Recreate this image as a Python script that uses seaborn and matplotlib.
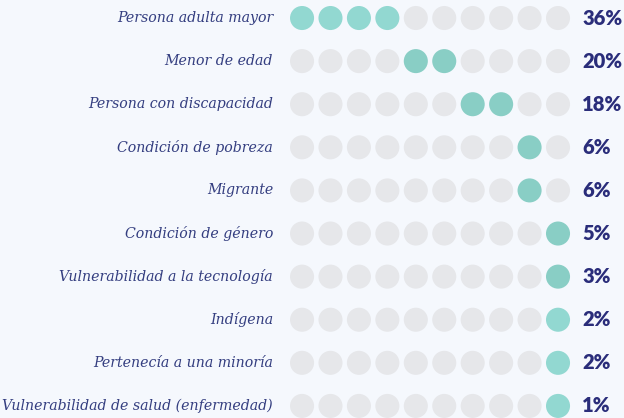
import pandas as pd
import matplotlib.pyplot as plt
import seaborn as sns

# rows, top to bottom
categories = ["Persona adulta mayor", "Menor de edad", "Persona con discapacidad",
              "Condición de pobreza", "Migrante", "Condición de género",
              "Vulnerabilidad a la tecnología", "Indígena", "Pertenecía a una minoría",
              "Vulnerabilidad de salud (enfermedad)"]
percentages = [36, 20, 18, 6, 6, 5, 3, 2, 2, 1]
# which of the 10 dots are filled in each row
firstDot = [0, 4, 6, 8, 8, 9, 9, 9, 9, 9]
filledDots = [4, 2, 2, 1, 1, 1, 1, 1, 1, 1]
rowColors = ["#92d8d1", "#89cec5", "#89cec5", "#89cec5", "#89cec5", "#89cec5",
             "#89cec5", "#92d8d1", "#92d8d1", "#92d8d1"]

bgColor = "#f5f8fd"
greyDot = "#e6e7ea"
labelColor = "#343e80"
pctColor = "#2a2d7a"

records = []
for row, cat in enumerate(categories):
    for dot in range(10):
        filled = firstDot[row] <= dot < firstDot[row] + filledDots[row]
        records.append({"row": row, "dot": dot, "color": rowColors[row] if filled else greyDot})
dotsDf = pd.DataFrame(records)

sns.set_style("white")
fig = plt.figure(figsize=(6.24, 4.18), dpi=100, facecolor=bgColor)
ax = fig.add_axes([0, 0, 1, 1])
ax.set_facecolor(bgColor)

palette = {c: c for c in dotsDf["color"].unique()}
sns.scatterplot(data=dotsDf, x="dot", y="row", hue="color", palette=palette,
                s=300, linewidth=0, legend=False, ax=ax)

for row, (cat, pct) in enumerate(zip(categories, percentages)):
    ax.text(-1.02, row, cat, ha="right", va="center", fontsize=10.2, style="italic",
            family="DejaVu Serif", color=labelColor)
    ax.text(9.85, row, f"{pct}%", ha="left", va="center", fontsize=14.5,
            family="Lato", fontweight="heavy", color=pctColor)

ax.set_xlim(-10.62, 11.32)
ax.set_ylim(9.28, -0.418)
ax.axis("off")

plt.savefig("out.png", dpi=100, facecolor=bgColor)
plt.close()
